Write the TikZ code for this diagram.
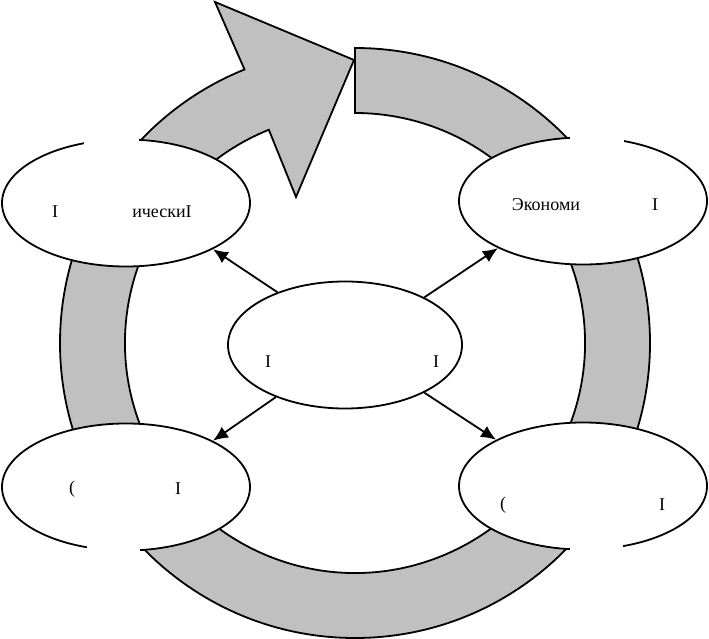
\documentclass[tikz,border=0pt]{standalone}
\usepackage{fontspec}
\setmainfont{Liberation Serif}
\usepackage{tikz}
\usetikzlibrary{shapes.geometric, arrows.meta}
\definecolor{ringgray}{RGB}{192,192,192}

\tikzset{
    oval/.style = {ellipse, draw, fill=white, line width=1.8pt, inner sep=0pt,
                   minimum width=248pt, minimum height=127pt},
    frag/.style = {inner sep=0pt, font=\fontsize{18}{20}\selectfont},
    pointer/.style = {line width=1.8pt, -{Latex[length=15pt,width=13pt]}},
    gap/.style = {fill=white, draw=none}
}

\begin{document}
\begin{tikzpicture}[x=1pt, y=1pt]
            \useasboundingbox (0,0) rectangle (709,638);
            % round band with the arrow head
            \begin{scope}[shift={(355,295)}]
            \filldraw[fill=ringgray, line width=1.8pt, line join=miter]
                (90:295) arc[start angle=90, end angle=-248, radius=295pt]
                -- (-140,341) -- (-1,283) -- (-59,146)
                -- (112:230) arc[start angle=112, end angle=450, radius=230pt] -- cycle;
            \end{scope}

            \node[oval] (tl) at (126,435) {};
            \node[oval] (tr) at (583,437) {};
            \node[oval, minimum width=234pt] (mid) at (345,293) {};
            \node[oval] (bl) at (126,151) {};
            \node[oval] (br) at (583,152) {};

            % breaks in the outlines
            \fill[gap] (84,488) rectangle (139,506);
            \fill[gap] (570,492) rectangle (624,510);
            \fill[gap] (87,79) rectangle (140,97);
            \fill[gap] (570,80) rectangle (623,98);

            \node[frag] (tl-a) at (55,426) {I};
            \node[frag] (tl-b) at (162,426) {ическиI};
            \node[frag] (tr-a) at (546,433) {Экономи};
            \node[frag] (tr-b) at (655,433) {I};
            \node[frag] (mid-a) at (268,276) {I};
            \node[frag] (mid-b) at (436,276) {I};
            \node[frag] (bl-a) at (72,149) {(};
            \node[frag] (bl-b) at (178,149) {I};
            \node[frag] (br-a) at (503,133) {(};
            \node[frag] (br-b) at (662,133) {I};

            \draw[pointer] (mid.142) -- (tl.-28);
            \draw[pointer] (mid.31) -- (tr.209);
            \draw[pointer] (mid.217) -- (bl.28);
            \draw[pointer] (mid.-31) -- (br.152);
\end{tikzpicture}
\end{document}
